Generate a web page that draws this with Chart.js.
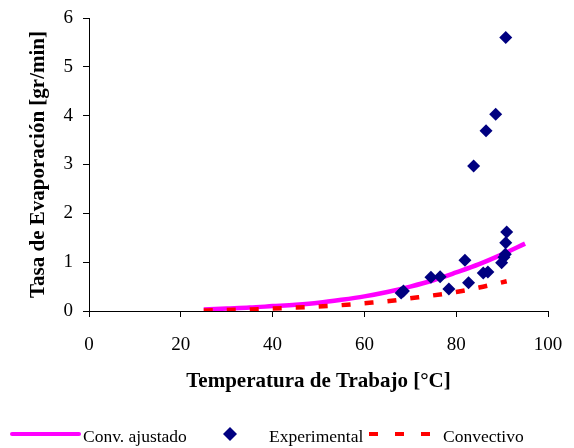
<!DOCTYPE html>
<html>
<head>
<meta charset="utf-8">
<script src="https://cdn.jsdelivr.net/npm/chart.js@4"></script>
<style>
  html, body { margin: 0; padding: 0; background: #fff; }
  #wrap { width: 574px; height: 448px; position: relative; }
</style>
</head>
<body>
<div id="wrap"><canvas id="grafica" width="574" height="448"></canvas></div>
<script>
// Curva de convección ajustada (temperatura, tasa)
const tempAjustado = [25, 30, 35, 40, 45, 50, 55, 60, 65, 70, 75, 80, 85, 90, 95];
const tasaAjustado = [0.03, 0.05, 0.07, 0.10, 0.13, 0.17, 0.23, 0.30, 0.39, 0.50, 0.63, 0.79, 0.96, 1.16, 1.38];

// Puntos experimentales
const tempExperimental = [68.0, 68.5, 74.5, 76.5, 78.4, 81.9, 82.7, 83.8, 85.9, 86.9, 86.5, 88.6, 89.9, 90.4, 90.7, 90.8, 91.0, 90.8];
const tasaExperimental = [0.37, 0.41, 0.69, 0.70, 0.45, 1.04, 0.58, 2.97, 0.78, 0.80, 3.69, 4.03, 0.99, 1.10, 1.16, 1.40, 1.62, 5.60];

// Curva convectiva teórica
const tempConvectivo = [25, 30, 35, 40, 45, 50, 55, 60, 65, 70, 75, 80, 85, 91];
const tasaConvectivo = [0.01, 0.02, 0.03, 0.05, 0.07, 0.09, 0.12, 0.16, 0.20, 0.26, 0.32, 0.39, 0.48, 0.61];

const ticksX = [0, 20, 40, 60, 80, 100];
const ticksY = [0, 1, 2, 3, 4, 5, 6];

const fuente = '"Liberation Serif", "Times New Roman", serif';
const puntos = (xs, ys) => xs.map((x, i) => ({ x: x, y: ys[i] }));

// Leyenda dibujada a mano bajo el gráfico
const leyendaPlugin = {
  id: 'leyenda',
  afterDraw(chart) {
    const ctx = chart.ctx;
    const y = 437;
    ctx.save();
    ctx.font = '17.5px ' + fuente;
    ctx.fillStyle = '#000';
    ctx.textBaseline = 'middle';

    ctx.strokeStyle = '#FF00FF';
    ctx.lineWidth = 4;
    ctx.lineCap = 'round';
    ctx.beginPath(); ctx.moveTo(12, y - 3); ctx.lineTo(79, y - 3); ctx.stroke();
    ctx.fillText('Conv. ajustado', 83, y);

    ctx.fillStyle = '#000080';
    ctx.beginPath();
    ctx.moveTo(230, y - 10); ctx.lineTo(237, y - 3); ctx.lineTo(230, y + 4); ctx.lineTo(223, y - 3);
    ctx.closePath(); ctx.fill();
    ctx.fillStyle = '#000';
    ctx.fillText('Experimental', 269, y);

    ctx.strokeStyle = '#FF0000';
    ctx.lineCap = 'butt';
    ctx.lineWidth = 4;
    ctx.setLineDash([9, 17]);
    ctx.beginPath(); ctx.moveTo(369, y - 3); ctx.lineTo(430, y - 3); ctx.stroke();
    ctx.setLineDash([]);
    ctx.fillText('Convectivo', 443, y);
    ctx.restore();
  }
};

new Chart(document.getElementById('grafica'), {
  type: 'scatter',
  data: {
    datasets: [
      {
        label: 'Conv. ajustado',
        data: puntos(tempAjustado, tasaAjustado),
        showLine: true,
        borderColor: '#FF00FF',
        borderWidth: 4.5,
        pointRadius: 0,
        cubicInterpolationMode: 'monotone',
        order: 2
      },
      {
        label: 'Experimental',
        data: puntos(tempExperimental, tasaExperimental),
        pointStyle: 'rectRot',
        pointRadius: 6.5,
        backgroundColor: '#000080',
        borderColor: '#000080',
        borderWidth: 0,
        order: 0
      },
      {
        label: 'Convectivo',
        data: puntos(tempConvectivo, tasaConvectivo),
        showLine: true,
        borderColor: '#FF0000',
        borderWidth: 4.5,
        borderDash: [9, 14],
        pointRadius: 0,
        cubicInterpolationMode: 'monotone',
        order: 1
      }
    ]
  },
  options: {
    responsive: false,
    animation: false,
    devicePixelRatio: 1,
    layout: { padding: { top: 18, right: 26, left: 0, bottom: 0 } },
    plugins: {
      legend: { display: false },
      tooltip: { enabled: false }
    },
    scales: {
      x: {
        type: 'linear',
        min: 0, max: 100,
        afterBuildTicks: s => { s.ticks = ticksX.map(v => ({ value: v })); },
        afterFit: s => { s.height = 137; s.paddingLeft = 0; s.paddingRight = 0; },
        grid: { drawOnChartArea: false, color: '#000', tickLength: 6 },
        border: { color: '#000', width: 1 },
        ticks: { color: '#000', font: { family: fuente, size: 19 }, padding: 17, maxRotation: 0 },
        title: {
          display: true,
          text: 'Temperatura de Trabajo [°C]',
          color: '#000',
          font: { family: fuente, size: 21, weight: 'bold' },
          padding: { top: 0, bottom: 54 }
        }
      },
      y: {
        type: 'linear',
        min: 0, max: 6,
        afterBuildTicks: s => { s.ticks = ticksY.map(v => ({ value: v })); },
        afterFit: s => { s.width = 89; s.paddingTop = 0; s.paddingBottom = 0; },
        grid: { drawOnChartArea: false, color: '#000', tickLength: 6 },
        border: { color: '#000', width: 1 },
        ticks: { color: '#000', font: { family: fuente, size: 19 }, padding: 10 },
        title: {
          display: true,
          text: 'Tasa de Evaporación [gr/min]',
          color: '#000',
          font: { family: fuente, size: 21, weight: 'bold' },
          padding: { top: 26, bottom: 0 }
        }
      }
    }
  },
  plugins: [leyendaPlugin]
});
</script>
</body>
</html>
